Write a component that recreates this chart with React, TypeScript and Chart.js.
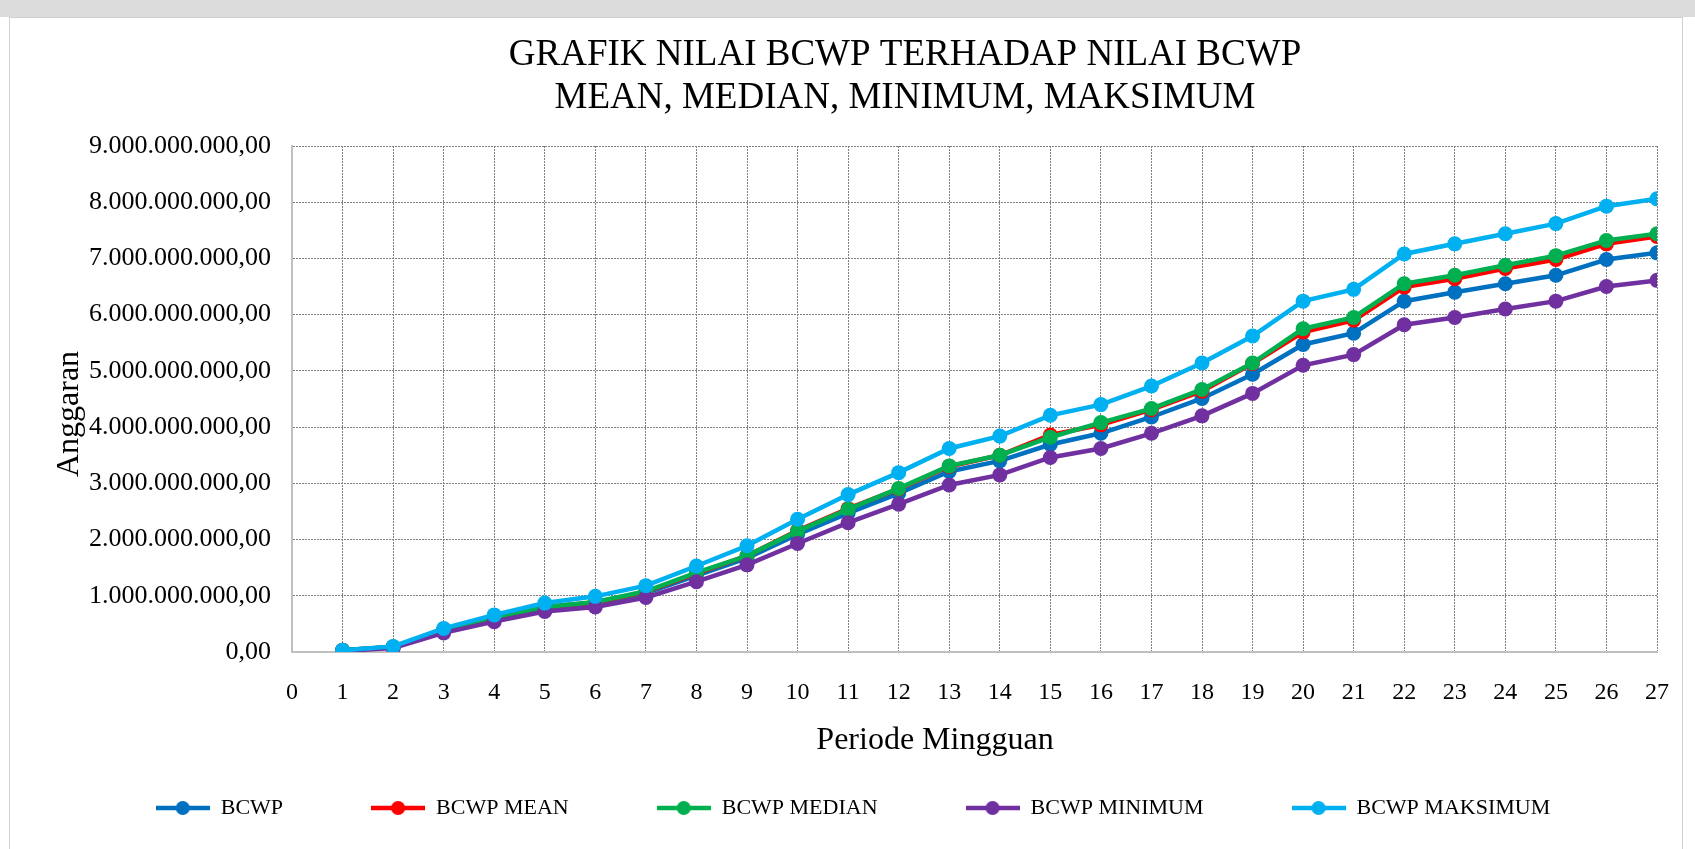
import React, { useEffect, useRef } from "react";
import { Chart, registerables } from "chart.js";

Chart.register(...registerables);

const periods = [1, 2, 3, 4, 5, 6, 7, 8, 9, 10, 11, 12, 13, 14, 15, 16, 17, 18, 19, 20, 21, 22, 23, 24, 25, 26, 27];

const bcwp = [0.03e9, 0.09e9, 0.38e9, 0.60e9, 0.78e9, 0.86e9, 1.05e9, 1.36e9, 1.67e9, 2.09e9, 2.47e9, 2.82e9, 3.21e9, 3.40e9, 3.69e9, 3.89e9, 4.18e9, 4.51e9, 4.94e9, 5.47e9, 5.67e9, 6.24e9, 6.40e9, 6.55e9, 6.70e9, 6.98e9, 7.10e9];
const bcwpMean = [0.03e9, 0.09e9, 0.39e9, 0.62e9, 0.80e9, 0.88e9, 1.07e9, 1.40e9, 1.71e9, 2.16e9, 2.55e9, 2.90e9, 3.30e9, 3.50e9, 3.86e9, 4.04e9, 4.31e9, 4.64e9, 5.13e9, 5.69e9, 5.90e9, 6.49e9, 6.64e9, 6.82e9, 6.98e9, 7.26e9, 7.39e9];
const bcwpMedian = [0.03e9, 0.09e9, 0.39e9, 0.62e9, 0.80e9, 0.89e9, 1.08e9, 1.41e9, 1.71e9, 2.15e9, 2.54e9, 2.91e9, 3.31e9, 3.50e9, 3.82e9, 4.08e9, 4.33e9, 4.67e9, 5.14e9, 5.75e9, 5.95e9, 6.55e9, 6.70e9, 6.88e9, 7.05e9, 7.32e9, 7.44e9];
const bcwpMinimum = [0.02e9, 0.07e9, 0.34e9, 0.54e9, 0.72e9, 0.80e9, 0.97e9, 1.25e9, 1.55e9, 1.93e9, 2.30e9, 2.63e9, 2.97e9, 3.15e9, 3.46e9, 3.62e9, 3.89e9, 4.20e9, 4.60e9, 5.10e9, 5.29e9, 5.82e9, 5.95e9, 6.10e9, 6.24e9, 6.50e9, 6.61e9];
const bcwpMaksimum = [0.03e9, 0.10e9, 0.42e9, 0.66e9, 0.87e9, 0.99e9, 1.18e9, 1.53e9, 1.89e9, 2.36e9, 2.80e9, 3.19e9, 3.62e9, 3.84e9, 4.21e9, 4.40e9, 4.73e9, 5.14e9, 5.62e9, 6.24e9, 6.45e9, 7.08e9, 7.26e9, 7.44e9, 7.62e9, 7.93e9, 8.06e9];

const seriesNames = ["BCWP", "BCWP MEAN", "BCWP MEDIAN", "BCWP MINIMUM", "BCWP MAKSIMUM"];
const seriesValues = [bcwp, bcwpMean, bcwpMedian, bcwpMinimum, bcwpMaksimum];
const seriesColors = ["#0070C0", "#FF0000", "#00B050", "#7030A0", "#00B0F0"];

const titleLines = ["GRAFIK NILAI BCWP TERHADAP NILAI BCWP", "MEAN, MEDIAN, MINIMUM, MAKSIMUM"];
const xAxisTitle = "Periode Mingguan";
const yAxisTitle = "Anggaran";

const xMin = 0;
const xMax = 27;
const yMin = 0;
const yMax = 9e9;
const yStep = 1e9;

const FONT = "'Liberation Serif', 'Times New Roman', serif";

function formatRupiah(v: number): string {
  const s = Math.round(v).toString();
  return s.replace(/\B(?=(\d{3})+(?!\d))/g, ".") + ",00";
}

function legendMarker(color: string): HTMLCanvasElement {
  const c = document.createElement("canvas");
  c.width = 54;
  c.height = 16;
  const g = c.getContext("2d")!;
  g.strokeStyle = color;
  g.lineWidth = 4.5;
  g.beginPath();
  g.moveTo(0, 8);
  g.lineTo(54, 8);
  g.stroke();
  g.fillStyle = color;
  g.beginPath();
  g.arc(27, 8, 7, 0, Math.PI * 2);
  g.fill();
  return c;
}

const textLayer = {
  id: "textLayer",
  afterDraw(chart: any) {
    const ctx = chart.ctx;
    ctx.save();
    ctx.fillStyle = "#000";
    ctx.textAlign = "center";
    ctx.textBaseline = "middle";
    ctx.font = `37px ${FONT}`;
    ctx.fillText(titleLines[0], 905, 55);
    ctx.fillText(titleLines[1], 905, 98);
    ctx.font = `32px ${FONT}`;
    ctx.fillText(xAxisTitle, 935, 741);
    ctx.translate(70, 414);
    ctx.rotate(-Math.PI / 2);
    ctx.fillText(yAxisTitle, 0, 0);
    ctx.restore();
  },
};

export default function App() {
  const ref = useRef<HTMLCanvasElement | null>(null);

  useEffect(() => {
    if (!ref.current) return;
    const markers = seriesColors.map((c) => legendMarker(c));
    const datasets = seriesNames.map((name, i) => ({
      label: name,
      data: periods.map((p, j) => ({ x: p, y: seriesValues[i][j] })),
      borderColor: seriesColors[i],
      backgroundColor: seriesColors[i],
      pointBackgroundColor: seriesColors[i],
      pointBorderColor: seriesColors[i],
      pointBorderWidth: 0,
      pointRadius: 7.5,
      pointHoverRadius: 7.5,
      pointStyle: "circle",
      borderWidth: 4.5,
      tension: 0,
      fill: false,
      order: seriesNames.length - 1 - i,
    }));

    const chart = new Chart(ref.current, {
      type: "line",
      data: { datasets },
      plugins: [textLayer],
      options: {
        responsive: false,
        animation: false,
        devicePixelRatio: 1,
        layout: { padding: { left: 42, right: 31, top: 146, bottom: 20 } },
        plugins: {
          title: { display: false },
          tooltip: { enabled: false },
          legend: {
            display: true,
            position: "bottom",
            align: "center",
            labels: {
              usePointStyle: true,
              pointStyleWidth: 54,
              padding: 88,
              color: "#000",
              font: { family: FONT, size: 22 },
              sort: (a: any, b: any) => a.datasetIndex - b.datasetIndex,
              generateLabels: (c: any) =>
                (Chart.defaults.plugins.legend.labels.generateLabels as any)(c).map((l: any) => ({
                  ...l,
                  pointStyle: markers[l.datasetIndex],
                })),
            },
          },
        },
        scales: {
          x: {
            type: "linear",
            min: xMin,
            max: xMax,
            afterFit: (s: any) => {
              s.height = 57;
            },
            ticks: {
              stepSize: 1,
              autoSkip: false,
              maxRotation: 0,
              padding: 26,
              color: "#000",
              font: { family: FONT, size: 24 },
            },
            grid: { color: "#808080", lineWidth: 1, drawTicks: false },
            border: { display: true, color: "#bfbfbf", width: 2, dash: [2, 1] },
          },
          y: {
            type: "linear",
            min: yMin,
            max: yMax,
            afterFit: (s: any) => {
              s.width = 250;
            },
            ticks: {
              stepSize: yStep,
              padding: 21,
              color: "#000",
              font: { family: FONT, size: 26 },
              callback: (v: any) => formatRupiah(Number(v)),
            },
            grid: { color: "#808080", lineWidth: 1, drawTicks: false },
            border: { display: true, color: "#bfbfbf", width: 2, dash: [2, 1] },
          },
        },
      },
    } as any);
    return () => chart.destroy();
  }, []);

  return (
    <div
      style={{
        position: "fixed",
        left: 0,
        top: 0,
        width: 1695,
        height: 849,
        background: "#ffffff",
        overflow: "hidden",
      }}
    >
      <div style={{ position: "absolute", left: 0, top: 0, width: 1695, height: 17, background: "#dcdcdc" }} />
      <div
        style={{
          position: "absolute",
          left: 9,
          top: 17,
          width: 1674,
          height: 860,
          border: "1px solid #d0d0d0",
          boxSizing: "border-box",
        }}
      />
      <canvas
        ref={ref}
        width={1695}
        height={849}
        style={{ position: "absolute", left: 0, top: 0, width: 1695, height: 849 }}
      />
    </div>
  );
}
